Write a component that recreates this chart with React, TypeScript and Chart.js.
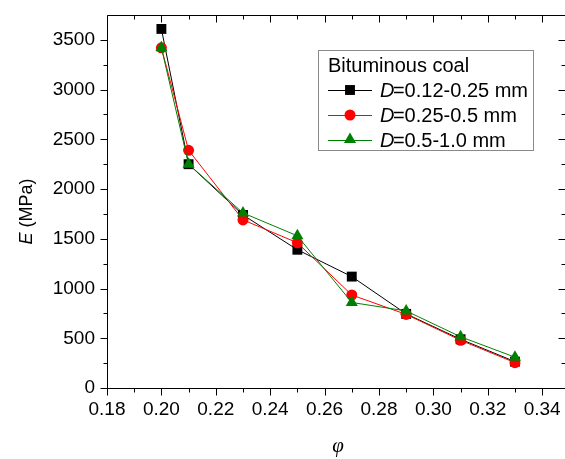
import React, { useEffect, useRef } from 'react';
import { Chart, registerables } from 'chart.js';

Chart.register(...registerables);

// ---- data ----
const phiValues = [0.2, 0.21, 0.23, 0.25, 0.27, 0.29, 0.31, 0.33];
const eSmall = [3610, 2250, 1740, 1390, 1120, 745, 490, 265];
const eMedium = [3420, 2390, 1690, 1460, 935, 740, 480, 255];
const eLarge = [3420, 2250, 1760, 1530, 860, 775, 515, 310];
const seriesSizes = ['0.12-0.25 mm', '0.25-0.5 mm', '0.5-1.0 mm'];
const legendTitle = 'Bituminous coal';
const xMajorTicks = [0.18, 0.2, 0.22, 0.24, 0.26, 0.28, 0.3, 0.32, 0.34];
const xMinorTicks = [0.19, 0.21, 0.23, 0.25, 0.27, 0.29, 0.31, 0.33];
const yMajorTicks = [0, 500, 1000, 1500, 2000, 2500, 3000, 3500];
const yMinorTicks = [250, 750, 1250, 1750, 2250, 2750, 3250];

const SANS = '"Liberation Sans", Arial, sans-serif';
const SERIF = '"Liberation Serif", "Times New Roman", serif';

const seriesStyles = [
  { color: '#000000', shape: 'rect', radius: 7 },
  { color: '#ff0000', shape: 'circle', radius: 5.5 },
  { color: '#008000', shape: 'triangle', radius: 7 },
];

function drawMarker(ctx: CanvasRenderingContext2D, shape: string, x: number, y: number, r: number, color: string) {
  ctx.save();
  ctx.fillStyle = color;
  ctx.beginPath();
  if (shape === 'rect') {
    const s = Math.SQRT1_2 * r;
    ctx.rect(x - s, y - s, 2 * s, 2 * s);
  } else if (shape === 'circle') {
    ctx.arc(x, y, r, 0, Math.PI * 2);
  } else {
    ctx.moveTo(x, y - r);
    ctx.lineTo(x + r * Math.sin((2 * Math.PI) / 3), y - r * Math.cos((2 * Math.PI) / 3));
    ctx.lineTo(x + r * Math.sin((4 * Math.PI) / 3), y - r * Math.cos((4 * Math.PI) / 3));
    ctx.closePath();
  }
  ctx.fill();
  ctx.restore();
}

const framePlugin = {
  id: 'frameTicks',
  afterDraw(chart: any) {
    const ctx: CanvasRenderingContext2D = chart.ctx;
    const { left, right, top, bottom } = chart.chartArea;
    const xs = chart.scales.x;
    const ys = chart.scales.y;
    const L = Math.round(left) + 0.5;
    const R = Math.round(right) + 0.5;
    const T = Math.round(top) + 0.5;
    const B = Math.round(bottom) + 0.5;
    ctx.save();
    ctx.strokeStyle = '#000';
    ctx.lineWidth = 1;
    ctx.beginPath();
    ctx.rect(L, T, R - L, B - T);
    ctx.stroke();
    const major = 7;
    const minor = 4;
    ctx.beginPath();
    const xt = (v: number, len: number) => {
      const p = Math.round(xs.getPixelForValue(v)) + 0.5;
      ctx.moveTo(p, B);
      ctx.lineTo(p, B + len);
      ctx.moveTo(p, T);
      ctx.lineTo(p, T + len);
    };
    const yt = (v: number, len: number) => {
      const p = Math.round(ys.getPixelForValue(v)) + 0.5;
      ctx.moveTo(L, p);
      ctx.lineTo(L - len, p);
      ctx.moveTo(R, p);
      ctx.lineTo(R - len, p);
    };
    xMajorTicks.forEach((v) => xt(v, major));
    xMinorTicks.forEach((v) => xt(v, minor));
    yMajorTicks.forEach((v) => yt(v, major));
    yMinorTicks.forEach((v) => yt(v, minor));
    ctx.stroke();

    // axis titles
    ctx.fillStyle = '#000';
    ctx.textBaseline = 'middle';
    ctx.save();
    ctx.translate(27, 211.5);
    ctx.rotate(-Math.PI / 2);
    ctx.font = `italic 18px ${SANS}`;
    const wE = ctx.measureText('E').width;
    ctx.font = `18px ${SANS}`;
    const wRest = ctx.measureText(' (MPa)').width;
    const start = -(wE + wRest) / 2;
    ctx.textAlign = 'left';
    ctx.font = `italic 18px ${SANS}`;
    ctx.fillText('E', start, 0);
    ctx.font = `18px ${SANS}`;
    ctx.fillText(' (MPa)', start + wE, 0);
    ctx.restore();
    ctx.font = `italic 21px ${SERIF}`;
    ctx.textAlign = 'center';
    ctx.fillText('\u03C6', 338, 446);

    // legend
    const bx = 318.5, by = 50.5, bw = 215, bh = 100;
    ctx.fillStyle = '#fff';
    ctx.fillRect(bx, by, bw, bh);
    ctx.strokeStyle = '#8a8a8a';
    ctx.strokeRect(bx, by, bw, bh);
    ctx.fillStyle = '#000';
    ctx.textAlign = 'left';
    ctx.textBaseline = 'alphabetic';
    ctx.font = `20px ${SANS}`;
    ctx.fillText(legendTitle, 328, 72);
    const rowsY = [90, 115, 139.5];
    seriesSizes.forEach((label, i) => {
      const st = seriesStyles[i];
      const y = rowsY[i];
      ctx.strokeStyle = st.color;
      ctx.lineWidth = 1;
      ctx.beginPath();
      ctx.moveTo(328, Math.round(y) + 0.5);
      ctx.lineTo(372, Math.round(y) + 0.5);
      ctx.stroke();
      drawMarker(ctx, st.shape, 350, y, st.radius, st.color);
      ctx.fillStyle = '#000';
      ctx.font = `italic 20px ${SANS}`;
      ctx.fillText('D', 380, y + 7);
      const wd = ctx.measureText('D').width;
      ctx.font = `20px ${SANS}`;
      ctx.fillText('=' + label, 380 + wd - 1.5, y + 7);
    });
    ctx.restore();
  },
};

export default function App() {
  const canvasRef = useRef<HTMLCanvasElement | null>(null);

  useEffect(() => {
    document.body.style.margin = '0';
    const canvas = canvasRef.current;
    if (!canvas) return;
    const seriesData = [eSmall, eMedium, eLarge];
    const chart = new Chart(canvas, {
      type: 'scatter',
      data: {
        datasets: seriesData.map((vals, i) => ({
          label: 'D=' + seriesSizes[i],
          data: phiValues.map((x, j) => ({ x, y: vals[j] })),
          showLine: true,
          borderColor: seriesStyles[i].color,
          backgroundColor: seriesStyles[i].color,
          borderWidth: 1,
          pointStyle: seriesStyles[i].shape as any,
          pointRadius: seriesStyles[i].radius,
          pointBorderWidth: 0,
          pointBackgroundColor: seriesStyles[i].color,
          order: 2 - i,
        })),
      },
      options: {
        responsive: false,
        animation: false,
        devicePixelRatio: 1,
        layout: { autoPadding: false, padding: { top: 15, right: 0, left: 0, bottom: 0 } },
        plugins: {
          legend: { display: false },
          tooltip: { enabled: false },
        },
        scales: {
          x: {
            type: 'linear',
            min: 0.18,
            max: 0.3484,
            grid: { display: false, drawTicks: true, tickLength: 8 },
            border: { display: false },
            afterBuildTicks: (scale: any) => {
              scale.ticks = xMajorTicks.map((v) => ({ value: v }));
            },
            afterFit: (scale: any) => {
              scale.height = 71;
              scale.paddingLeft = 0;
              scale.paddingRight = 0;
            },
            ticks: {
              padding: 2,
              color: '#000',
              font: { family: SANS, size: 19 },
              callback: (v: any) => Number(v).toFixed(2),
            },
          },
          y: {
            type: 'linear',
            min: 0,
            max: 3750,
            grid: { display: false, drawTicks: true, tickLength: 10 },
            border: { display: false },
            afterBuildTicks: (scale: any) => {
              scale.ticks = yMajorTicks.map((v) => ({ value: v }));
            },
            afterFit: (scale: any) => {
              scale.width = 107;
              scale.paddingTop = 0;
              scale.paddingBottom = 0;
            },
            ticks: {
              padding: 2,
              color: '#000',
              font: { family: SANS, size: 19 },
              callback: (v: any) => String(v),
            },
          },
        },
      },
      plugins: [framePlugin],
    });
    return () => chart.destroy();
  }, []);

  return (
    <div style={{ width: 565, height: 459, background: '#fff' }}>
      <canvas ref={canvasRef} width={565} height={459} />
    </div>
  );
}
